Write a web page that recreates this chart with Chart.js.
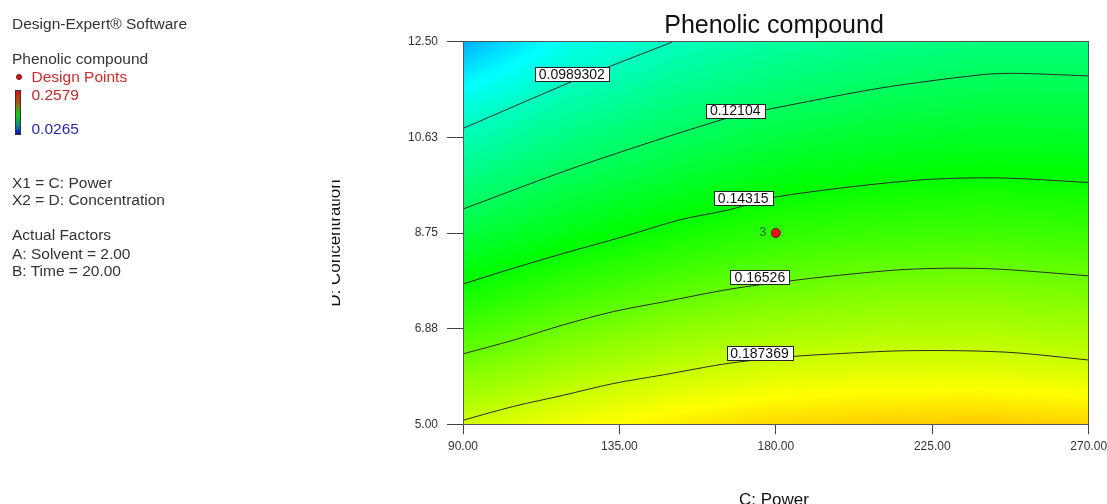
<!DOCTYPE html>
<html>
<head>
<meta charset="utf-8">
<title>Phenolic compound</title>
<script src="https://cdn.jsdelivr.net/npm/chart.js@4.4.1/dist/chart.umd.min.js"></script>
<style>
    html, body { margin: 0; padding: 0; background: #fff; }
    #wrap { position: relative; width: 1107px; height: 504px; overflow: hidden;
            font-family: "Liberation Sans", Arial, sans-serif; }
    #chart { position: absolute; left: 0; top: 0; }
    .side { position: absolute; left: 12px; font-size: 15.5px; line-height: 15.5px;
            color: #333; white-space: nowrap; }
    .legend-dot { position: absolute; left: 16px; top: 74px; width: 6px; height: 6px;
                  border-radius: 50%; background: #d01c1c; border: 1px solid #7a0a0a; box-sizing: border-box; }
    .legend-bar { position: absolute; left: 15px; top: 90px; width: 6px; height: 45px;
                  box-sizing: border-box; border: 1px solid #333;
                  background: linear-gradient(to bottom, #e01010 0%, #b05010 25%, #10d010 55%, #0a8a8a 80%, #0010c8 100%); }
</style>
</head>
<body>
<div id="wrap">
    <canvas id="chart" width="1107" height="504"></canvas>

    <div class="side" style="top:15.7px">Design-Expert® Software</div>
    <div class="side" style="top:51.2px">Phenolic compound</div>
    <span class="legend-dot"></span>
    <div class="side" style="top:68.9px; left:31.5px; color:#cc2a2a">Design Points</div>
    <span class="legend-bar"></span>
    <div class="side" style="top:86.5px; left:31.5px; color:#c42626">0.2579</div>
    <div class="side" style="top:121.2px; left:31.5px; color:#2a2aa8">0.0265</div>
    <div class="side" style="top:175.4px">X1 = C: Power</div>
    <div class="side" style="top:192.4px">X2 = D: Concentration</div>
    <div class="side" style="top:227.4px">Actual Factors</div>
    <div class="side" style="top:245.7px">A: Solvent = 2.00</div>
    <div class="side" style="top:262.9px">B: Time = 20.00</div>
</div>

<script>
// --- Axes ---
const xTicks = [90, 135, 180, 225, 270];
const xTickLabels = ['90.00', '135.00', '180.00', '225.00', '270.00'];
const yTicks = [5, 6.875, 8.75, 10.625, 12.5];
const yTickLabels = ['5.00', '6.88', '8.75', '10.63', '12.50'];

// --- Colour scale (legend) ---
const responseMin = 0.0265;
const responseMax = 0.2579;

// --- Response surface (rows = concentration, cols = power) ---
const gridPower = [90, 120, 150, 180, 210, 240, 270];
const gridConc = [5, 6.25, 7.5, 8.75, 10, 11.25, 12.5];
const gridResponse = [
    [0.1895, 0.1975, 0.2040, 0.2090, 0.2110, 0.2120, 0.2100],
    [0.1675, 0.1768, 0.1835, 0.1881, 0.1898, 0.1900, 0.1875],
    [0.1472, 0.1569, 0.1642, 0.1693, 0.1723, 0.1728, 0.1708],
    [0.1281, 0.1379, 0.1459, 0.1524, 0.1555, 0.1566, 0.1551],
    [0.1101, 0.1208, 0.1288, 0.1362, 0.1396, 0.1413, 0.1404],
    [0.0920, 0.1047, 0.1138, 0.1204, 0.1250, 0.1275, 0.1272],
    [0.0660, 0.0880, 0.0988, 0.1059, 0.1110, 0.1141, 0.1143]
];

// --- Contour lines ---
const contourLevels = ['0.0989302', '0.12104', '0.14315', '0.16526', '0.187369'];

const c1Power = [90, 121.7, 132.4, 150.1];
const c1Conc = [10.80, 11.73, 12.02, 12.49];

const c2Power = [90, 123.7, 167.3, 177.4, 210, 238.8, 248.2, 270];
const c2Conc = [9.22, 10.07, 11.03, 11.17, 11.59, 11.85, 11.88, 11.83];

const c3Power = [90, 104.5, 118.9, 136.2, 152.5, 166.9, 180.3, 219.5, 243.5, 270];
const c3Conc = [7.75, 8.06, 8.35, 8.68, 9.01, 9.21, 9.46, 9.78, 9.83, 9.74];

const c4Power = [90, 104.5, 118.9, 133.3, 147.7, 166.9, 183.9, 196.6, 215.8, 230.2, 244.5, 270];
const c4Conc = [6.38, 6.65, 6.95, 7.21, 7.40, 7.65, 7.81, 7.91, 8.03, 8.06, 8.04, 7.91];

const c5Power = [90, 104.5, 118.9, 133.3, 147.7, 166.9, 185.1, 196.6, 215.8, 235, 249.4, 270];
const c5Conc = [5.08, 5.35, 5.57, 5.80, 5.97, 6.20, 6.33, 6.38, 6.44, 6.44, 6.40, 6.26];

// label anchors (centre of each boxed value)
const labelPower = [121.3, 168.3, 170.6, 175.4, 175.3];
const labelConc = [11.87, 11.15, 9.44, 7.88, 6.40];

// --- Design point ---
const designPower = [180];
const designConc = [8.75];
const designCount = ['3'];

const FONT = '"Liberation Sans", Arial, sans-serif';

// --- Couleurs du dégradé bleu > cyan > vert > jaune > rouge ---
const colourStops = [
    [0, [0, 0, 255]],
    [0.25, [0, 255, 255]],
    [0.5, [0, 255, 0]],
    [0.75, [255, 255, 0]],
    [1, [255, 0, 0]]
];

function colourFor(v) {
    let t = (v - responseMin) / (responseMax - responseMin);
    t = Math.min(1, Math.max(0, t));
    for (let i = 1; i < colourStops.length; i++) {
        if (t <= colourStops[i][0]) {
            const [t0, c0] = colourStops[i - 1];
            const [t1, c1] = colourStops[i];
            const f = (t - t0) / (t1 - t0);
            return c0.map((c, k) => c + (c1[k] - c) * f);
        }
    }
    return colourStops[colourStops.length - 1][1];
}

function locate(arr, v) {
    let i = 0;
    while (i < arr.length - 2 && v > arr[i + 1]) i++;
    const f = Math.min(1, Math.max(0, (v - arr[i]) / (arr[i + 1] - arr[i])));
    return [i, f];
}

function sampleGrid(px, cy) {
    const [i, fx] = locate(gridPower, px);
    const [j, fy] = locate(gridConc, cy);
    const a = gridResponse[j][i], b = gridResponse[j][i + 1];
    const c = gridResponse[j + 1][i], d = gridResponse[j + 1][i + 1];
    return (a * (1 - fx) + b * fx) * (1 - fy) + (c * (1 - fx) + d * fx) * fy;
}

function toPoints(xs, ys) {
    return xs.map((x, i) => ({ x, y: ys[i] }));
}

// --- Fond coloré dessiné via les échelles ---
const heatmapPlugin = {
    id: 'heatmap',
    beforeDatasetsDraw(chart) {
        const { ctx, chartArea: a, scales: { x, y } } = chart;
        const left = Math.round(a.left), top = Math.round(a.top);
        const w = Math.round(a.right) - left, h = Math.round(a.bottom) - top;
        const img = ctx.createImageData(w, h);
        for (let j = 0; j < h; j++) {
            const cy = y.getValueForPixel(top + j + 0.5);
            for (let i = 0; i < w; i++) {
                const px = x.getValueForPixel(left + i + 0.5);
                const col = colourFor(sampleGrid(px, cy));
                const k = (j * w + i) * 4;
                img.data[k] = col[0];
                img.data[k + 1] = col[1];
                img.data[k + 2] = col[2];
                img.data[k + 3] = 255;
            }
        }
        ctx.putImageData(img, left, top);
    }
};

// --- Étiquettes des isolignes + nombre de points ---
const labelsPlugin = {
    id: 'contourLabels',
    afterDatasetsDraw(chart) {
        const { ctx, scales: { x, y } } = chart;
        ctx.save();
        ctx.font = '14px ' + FONT;
        ctx.textAlign = 'center';
        ctx.textBaseline = 'middle';
        contourLevels.forEach((txt, i) => {
            const cx = x.getPixelForValue(labelPower[i]);
            const cy = y.getPixelForValue(labelConc[i]);
            const w = Math.round(ctx.measureText(txt).width + 8);
            const h = 14;
            const bx = Math.round(cx - w / 2) + 0.5, by = Math.round(cy - h / 2) + 0.5;
            ctx.fillStyle = '#fff';
            ctx.fillRect(bx, by, w, h);
            ctx.strokeStyle = '#222';
            ctx.lineWidth = 1;
            ctx.strokeRect(bx, by, w, h);
            ctx.fillStyle = '#111';
            ctx.fillText(txt, cx, cy + 1);
        });

        ctx.font = '13px ' + FONT;
        ctx.fillStyle = '#2a6a2a';
        designCount.forEach((txt, i) => {
            ctx.fillText(txt, x.getPixelForValue(designPower[i]) - 13, y.getPixelForValue(designConc[i]) - 1);
        });
        ctx.restore();
    }
};

// --- Cadre, titre et titres d'axes ---
const framePlugin = {
    id: 'frame',
    afterDraw(chart) {
        const { ctx, chartArea: a } = chart;
        ctx.save();
        ctx.strokeStyle = '#555';
        ctx.lineWidth = 1;
        ctx.strokeRect(Math.round(a.left) + 0.5, Math.round(a.top) - 0.5,
                       Math.round(a.right - a.left) - 1, Math.round(a.bottom - a.top));

        ctx.fillStyle = '#111';
        ctx.textAlign = 'center';
        ctx.textBaseline = 'alphabetic';
        ctx.font = '25px ' + FONT;
        ctx.fillText('Phenolic compound', 774, 33);

        ctx.font = '17px ' + FONT;
        ctx.fillText('C: Power', 774, 505);

        // titre vertical, tronqué à gauche comme dans l'original
        ctx.beginPath();
        ctx.rect(332, 0, 60, 504);
        ctx.clip();
        ctx.translate(340, 243);
        ctx.rotate(-Math.PI / 2);
        ctx.fillText('D: Concentration', 0, 0);
        ctx.restore();
    }
};

const chart = new Chart(document.getElementById('chart'), {
    type: 'line',
    data: {
        datasets: [
            ...[[c1Power, c1Conc], [c2Power, c2Conc], [c3Power, c3Conc], [c4Power, c4Conc], [c5Power, c5Conc]]
                .map(([xs, ys], i) => ({
                    label: contourLevels[i],
                    data: toPoints(xs, ys),
                    borderColor: '#2b2b2b',
                    borderWidth: 1,
                    pointRadius: 0,
                    tension: 0.3,
                    fill: false
                })),
            {
                type: 'scatter',
                label: 'Design Points',
                data: toPoints(designPower, designConc),
                pointRadius: 4.5,
                pointBackgroundColor: '#e4141a',
                pointBorderColor: '#7a0808',
                pointBorderWidth: 1
            }
        ]
    },
    options: {
        responsive: false,
        animation: false,
        events: [],
        layout: { padding: { left: 0, right: 18.3, top: 41.7, bottom: 0 } },
        plugins: {
            legend: { display: false },
            title: { display: false },
            tooltip: { enabled: false }
        },
        scales: {
            x: {
                type: 'linear',
                min: 90,
                max: 270,
                afterBuildTicks: scale => { scale.ticks = xTicks.map(v => ({ value: v })); },
                afterFit: scale => {
                    scale.height = 79.7;
                    scale.paddingLeft = 0;
                    scale.paddingRight = 0;
                },
                ticks: {
                    autoSkip: false,
                    maxRotation: 0,
                    padding: 5,
                    color: '#333',
                    font: { family: FONT, size: 12 },
                    callback: (val, i) => xTickLabels[i]
                },
                grid: { drawOnChartArea: false, tickLength: 10, color: '#444' },
                border: { color: '#555' }
            },
            y: {
                type: 'linear',
                min: 5,
                max: 12.5,
                afterBuildTicks: scale => { scale.ticks = yTicks.map(v => ({ value: v })); },
                afterFit: scale => {
                    scale.width = 463;
                    scale.paddingTop = 0;
                    scale.paddingBottom = 0;
                },
                ticks: {
                    autoSkip: false,
                    padding: 9,
                    color: '#333',
                    font: { family: FONT, size: 12 },
                    callback: (val, i) => yTickLabels[i]
                },
                grid: { drawOnChartArea: false, tickLength: 16, color: '#444' },
                border: { color: '#555' }
            }
        }
    },
    plugins: [heatmapPlugin, labelsPlugin, framePlugin]
});
</script>
</body>
</html>
